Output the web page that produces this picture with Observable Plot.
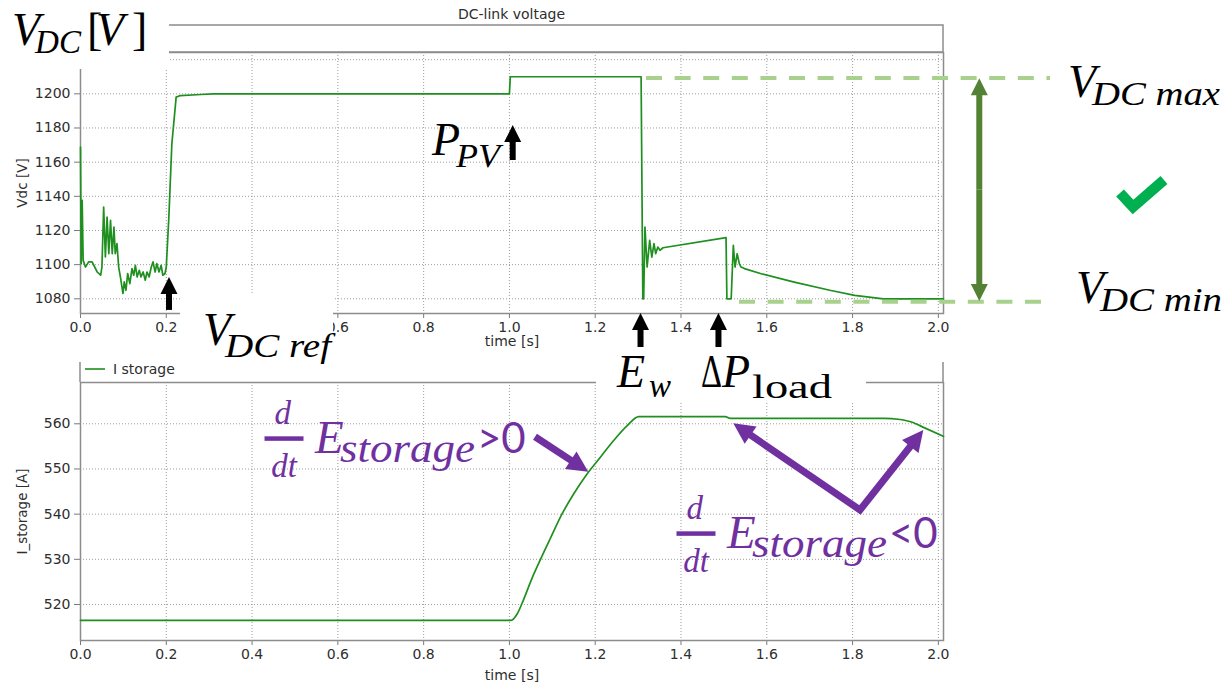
<!DOCTYPE html>
<html>
<head>
<meta charset="utf-8">
<script src="https://cdn.jsdelivr.net/npm/d3@7"></script>
<script src="https://cdn.jsdelivr.net/npm/@observablehq/plot@0.6"></script>
<style>
  html, body { margin: 0; padding: 0; background: #ffffff; }
  #wrap { position: relative; width: 1228px; height: 686px; overflow: hidden; background: #fff; }
</style>
</head>
<body>
<div id="wrap"></div>
<script>
// ---------------- data ----------------
const timeTicks = [0, 0.2, 0.4, 0.6, 0.8, 1.0, 1.2, 1.4, 1.6, 1.8, 2.0];
const vdcTicks = [1080, 1100, 1120, 1140, 1160, 1180, 1200, 1220];
const iTicks = [520, 530, 540, 550, 560];
const topHiddenTimeLabels = [0.4]; // hidden behind the V_DC ref label in the reference

// DC-link voltage [V] vs time [s]
const vdcTime = [0, 0.0016, 0.0039, 0.0062, 0.0116, 0.019, 0.027, 0.039, 0.047, 0.050, 0.054, 0.058, 0.062, 0.066, 0.070, 0.074, 0.078, 0.081, 0.085, 0.089, 0.093, 0.099, 0.102, 0.106, 0.110, 0.115, 0.120, 0.124, 0.128, 0.132, 0.137, 0.141, 0.146, 0.151, 0.155, 0.160, 0.165, 0.169, 0.174, 0.178, 0.183, 0.188, 0.192, 0.197, 0.200, 0.206, 0.213, 0.223, 0.233, 0.280, 0.310, 1.000, 1.002, 1.307, 1.311, 1.313, 1.316, 1.321, 1.327, 1.332, 1.337, 1.341, 1.346, 1.351, 1.358, 1.505, 1.507, 1.517, 1.522, 1.526, 1.531, 1.536, 1.540, 1.548, 1.587, 1.664, 1.747, 1.805, 1.872, 2.012];
const vdcValue = [1168.8, 1100.6, 1137.6, 1102.5, 1098.6, 1101.6, 1101.6, 1095.7, 1093.8, 1098.6, 1133.7, 1104.5, 1127.9, 1106.4, 1125.9, 1106.4, 1122.0, 1106.4, 1112.3, 1098.6, 1092.8, 1083.1, 1089.9, 1085.0, 1094.8, 1088.9, 1097.7, 1093.8, 1099.6, 1092.8, 1096.7, 1092.8, 1095.7, 1090.9, 1095.7, 1092.8, 1098.6, 1101.6, 1095.7, 1100.6, 1095.7, 1099.6, 1093.8, 1094.8, 1098.6, 1127.9, 1170.8, 1198.1, 1199.0, 1199.6, 1200, 1200, 1210, 1210, 1080, 1080, 1122.0, 1098.6, 1114.2, 1104.4, 1112.3, 1106.4, 1110.3, 1108.4, 1109.9, 1115.8, 1080, 1080, 1111.3, 1098.6, 1106.4, 1100.6, 1098.6, 1097.7, 1094.7, 1089.8, 1085.0, 1082.0, 1080.0, 1080.0];

// Storage current [A] vs time [s]
const iTime = [0, 1.004, 1.018, 1.0335, 1.053, 1.0724, 1.0957, 1.123, 1.150, 1.181, 1.212, 1.243, 1.2746, 1.3016, 1.503, 1.515, 1.875, 1.906, 1.937, 1.968, 2.012];
const iValue = [516.5, 516.5, 517.9, 521.2, 525.9, 530.0, 534.7, 540.1, 544.5, 548.9, 552.6, 556.3, 559.6, 561.6, 561.6, 561.2, 561.2, 561.0, 560.4, 559.1, 557.2];

// annotation anchors, in chart data units
const eventArrowT = [0.2075, 1.0088, 1.3068, 1.4885];
const eventArrowFrom = [1073.2, 1160.97, 1051.5, 1051.5];
const eventArrowTo = [1092.5, 1181.46, 1071.4, 1071.4];
const limitLevels = [1208.98, 1078.02];
const limitStartT = [1.3196, 1.5364];
const limitEndT = 2.2615;
const rangeArrowT = 2.0966;
const rangeArrowV = [1078.43, 1208.80];
const checkT = [2.4247, 2.4550, 2.5272];
const checkV = [1141.65, 1133.46, 1149.26];
const chargeArrowT = [1.0608, 1.1851];
const chargeArrowV = [557.03, 549.28];
const dischargeT = [1.5231, 1.8185, 1.9661];
const dischargeV = [560.00, 540.81, 558.52];

// ---------------- layout ----------------
const W = 1228, H = 686;
const xDomain = [0, 2.012];
const botOffset = 350;
const topHeaderTop = 25;
const botHeaderTop = 362;
const FRAME = "#8c8c8c";
const LINE = "#1f8f1f";
const SERIF = "'Liberation Serif', 'Times New Roman', serif";
const SANSUI = "'DejaVu Sans', sans-serif";
const SANSMATH = "Lato, 'Open Sans', sans-serif";
const PURPLE = "#7030a0";

const vdc = vdcTime.map((t, i) => ({t, v: vdcValue[i]}));
const cur = iTime.map((t, i) => ({t, v: iValue[i]}));

const grid = {stroke: "#9c9c9c", strokeOpacity: 1, strokeWidth: 1, strokeDasharray: "1,2"};

function makeChart({height, marginTop, marginBottom, domain, yTicks, yLabel, data, xLabelDy, hidden = [], curve = "linear"}) {
  const fmt = d3.format(".1f");
  return Plot.plot({
    width: W, height,
    marginLeft: 80, marginRight: 285, marginTop, marginBottom,
    x: {domain: xDomain},
    y: {domain},
    style: {fontFamily: SANSUI, fontSize: "14px", color: "#2e2e2e", background: "transparent", overflow: "visible"},
    marks: [
      Plot.gridX(timeTicks, grid),
      Plot.gridY(yTicks, grid),
      Plot.axisX(timeTicks, {tickFormat: d => hidden.includes(d) ? "" : fmt(d), label: null, tickSize: 5, tickPadding: 4, stroke: "#7a7a7a", fontSize: 14}),
      Plot.axisY(yTicks, {tickFormat: d3.format("d"), label: null, tickSize: 6, tickPadding: 4, stroke: "#7a7a7a", fontSize: 14}),
      Plot.frame({stroke: FRAME, strokeWidth: 1.5}),
      Plot.text(["time [s]"], {text: d => d, frameAnchor: "bottom", dy: xLabelDy, lineAnchor: "middle", fontSize: 14}),
      Plot.text([yLabel], {text: d => d, frameAnchor: "left", dx: -63, rotate: -90, lineAnchor: "top", textAnchor: "middle", fontSize: 13.5}),
      Plot.line(data, {x: "t", y: "v", stroke: LINE, strokeWidth: 1.7, curve})
    ]
  });
}

const wrap = document.getElementById("wrap");
const topPlot = makeChart({height: 350, marginTop: 52, marginBottom: 37, domain: [1071.4, 1224.2], yTicks: vdcTicks, yLabel: "Vdc [V]", data: vdc, xLabelDy: 28, hidden: topHiddenTimeLabels});
topPlot.style.position = "absolute"; topPlot.style.left = "0px"; topPlot.style.top = "0px";
wrap.append(topPlot);
const botPlot = makeChart({height: 336, marginTop: 32, marginBottom: 46, domain: [512.03, 569.14], yTicks: iTicks, yLabel: "I_storage [A]", data: cur, xLabelDy: 35, curve: "monotone-x"});
botPlot.style.position = "absolute"; botPlot.style.left = "0px"; botPlot.style.top = botOffset + "px";
wrap.append(botPlot);

// ---------------- overlay (positions via the plots' scales) ----------------
const sx = t => topPlot.scale("x").apply(t);
const tyTop = v => topPlot.scale("y").apply(v);
const tyBot = v => botOffset + botPlot.scale("y").apply(v);
const P = {top: (t, v) => [sx(t), tyTop(v)], bot: (t, v) => [sx(t), tyBot(v)]};
const [xL, xR] = topPlot.scale("x").range;
const topFrameTop = topPlot.scale("y").range[1];
const botFrameTop = botOffset + botPlot.scale("y").range[1];

const ov = d3.select(wrap).append("svg")
  .attr("width", W).attr("height", H)
  .style("position", "absolute").style("left", "0px").style("top", "0px");

// header boxes
ov.append("rect").attr("x", xL).attr("y", topHeaderTop).attr("width", xR - xL).attr("height", topFrameTop - topHeaderTop)
  .attr("fill", "none").attr("stroke", FRAME).attr("stroke-width", 1.5);
for (const x of [xL, xR]) {
  ov.append("line").attr("x1", x).attr("x2", x).attr("y1", botHeaderTop).attr("y2", botFrameTop)
    .attr("stroke", FRAME).attr("stroke-width", 1.5);
}
// white label boxes
const masks = [[0, 0, 169, 69], [180, 295, 153, 81], [596, 333, 270, 68]];
for (const [x, y, w, h] of masks) ov.append("rect").attr("x", x).attr("y", y).attr("width", w).attr("height", h).attr("fill", "#fff");

// title + legend
ov.append("text").attr("x", (xL + xR) / 2).attr("y", 19).attr("text-anchor", "middle")
  .attr("font-family", SANSUI).attr("font-size", 14).attr("fill", "#2e2e2e").text("DC-link voltage");
ov.append("line").attr("x1", xL + 5).attr("x2", xL + 25).attr("y1", botHeaderTop + 7).attr("y2", botHeaderTop + 7)
  .attr("stroke", LINE).attr("stroke-width", 1.6);
ov.append("text").attr("x", xL + 33).attr("y", botHeaderTop + 12).attr("font-family", SANSUI).attr("font-size", 14)
  .attr("fill", "#2e2e2e").text("I storage");

// helpers
function headPath(p1, p2, len, wid) {
  const dx = p2[0] - p1[0], dy = p2[1] - p1[1], L = Math.hypot(dx, dy), ux = dx / L, uy = dy / L;
  const bx = p2[0] - ux * len, by = p2[1] - uy * len, h = wid / 2;
  return `M${p2[0]},${p2[1]}L${bx - uy * h},${by + ux * h}L${bx + uy * h},${by - ux * h}Z`;
}
function back(p1, p2, len) {
  const dx = p2[0] - p1[0], dy = p2[1] - p1[1], L = Math.hypot(dx, dy);
  return [p2[0] - dx / L * len, p2[1] - dy / L * len];
}
function arrow(p1, p2, color, width, len, wid) {
  const e = back(p1, p2, len * 0.7);
  ov.append("line").attr("x1", p1[0]).attr("y1", p1[1]).attr("x2", e[0]).attr("y2", e[1])
    .attr("stroke", color).attr("stroke-width", width);
  ov.append("path").attr("d", headPath(p1, p2, len, wid)).attr("fill", color);
}

// V_DC max / min guides
limitLevels.forEach((v, i) => {
  const a = P.top(limitStartT[i], v), b = P.top(limitEndT, v);
  ov.append("line").attr("x1", a[0]).attr("y1", a[1]).attr("x2", b[0]).attr("y2", b[1])
    .attr("stroke", "#a9d18e").attr("stroke-width", 4).attr("stroke-dasharray", "16,12.6");
});
// range double arrow
{
  const lo = P.top(rangeArrowT, rangeArrowV[0]), hi = P.top(rangeArrowT, rangeArrowV[1]);
  const mid = [(lo[0] + hi[0]) / 2, (lo[1] + hi[1]) / 2];
  arrow(mid, hi, "#548235", 6, 17, 17);
  arrow(mid, lo, "#548235", 6, 17, 17);
}
// check mark
ov.append("path").attr("d", d3.line()(checkT.map((t, i) => P.top(t, checkV[i]))))
  .attr("fill", "none").attr("stroke", "#00b050").attr("stroke-width", 10.5)
  .attr("stroke-linejoin", "miter").attr("stroke-linecap", "butt");

// event arrows (black)
eventArrowT.forEach((t, i) => arrow(P.top(t, eventArrowFrom[i]), P.top(t, eventArrowTo[i]), "#000", 6, 17, 17));

// purple arrows
arrow(P.bot(chargeArrowT[0], chargeArrowV[0]), P.bot(chargeArrowT[1], chargeArrowV[1]), PURPLE, 7, 21, 21);
{
  const t1 = P.bot(dischargeT[0], dischargeV[0]), vx = P.bot(dischargeT[1], dischargeV[1]), t2 = P.bot(dischargeT[2], dischargeV[2]);
  const e1 = back(vx, t1, 14), e2 = back(vx, t2, 14);
  ov.append("path").attr("d", `M${e1[0]},${e1[1]}L${vx[0]},${vx[1]}L${e2[0]},${e2[1]}`)
    .attr("fill", "none").attr("stroke", PURPLE).attr("stroke-width", 7).attr("stroke-linejoin", "miter");
  ov.append("path").attr("d", headPath(vx, t1, 21, 21)).attr("fill", PURPLE);
  ov.append("path").attr("d", headPath(vx, t2, 21, 21)).attr("fill", PURPLE);
}

// text labels: one <text> per formula, pieces as positioned <tspan>s
function drawLabel(x, y, parts, color) {
  const t = ov.append("text").attr("fill", color).attr("font-family", SERIF);
  for (const p of parts) {
    const ts = t.append("tspan").attr("x", x + (p.dx || 0)).attr("y", y + (p.dy || 0))
      .attr("font-size", p.size)
      .attr("font-style", p.italic === false ? "normal" : "italic")
      .attr("text-anchor", p.anchor || "start").text(p.s);
    if (p.family) ts.attr("font-family", p.family);
    if (p.len) ts.attr("textLength", p.len).attr("lengthAdjust", "spacingAndGlyphs");
  }
}
const M = 46, S = 33;
const blackLabels = [
  {at: P.top(-0.1585, 1228.3), parts: [
    {s: "V", size: M}, {s: "DC", size: S, dx: 23, dy: 8, len: 46},
    {s: "[", size: M, dx: 75, italic: false}, {s: "V", size: M, dx: 84}, {s: "]", size: M, dx: 120, italic: false}]},
  {at: P.top(0.2868, 1052.67), parts: [{s: "V", size: M}, {s: "DC ref", size: S, dx: 22, dy: 12, len: 106}]},
  {at: P.top(0.8207, 1163.9), parts: [{s: "P", size: M}, {s: "PV", size: S, dx: 24, dy: 12, len: 44}]},
  {at: P.top(2.3034, 1197.86), parts: [{s: "V", size: M}, {s: "DC max", size: S, dx: 24, dy: 8, len: 128}]},
  {at: P.top(2.3221, 1077.26), parts: [{s: "V", size: M}, {s: "DC min", size: S, dx: 24, dy: 8.5, len: 122}]},
  {at: P.top(1.2520, 1028.08), parts: [{s: "E", size: M}, {s: "w", size: S, dx: 32, dy: 10, len: 22}]},
  {at: P.top(1.4478, 1028.08), parts: [{s: "Δ", size: M, italic: false, len: 21}, {s: "P", size: M, dx: 21}, {s: "load", size: S, dx: 51, dy: 11, len: 80, italic: false}]}
];
for (const l of blackLabels) drawLabel(l.at[0], l.at[1], l.parts, "#000");

const rateLabels = [
  {at: P.bot(0.5479, 553.42), rel: ">0"},
  {at: P.bot(1.5084, 532.39), rel: "<0"}
];
for (const r of rateLabels) {
  const [x, y] = r.at;
  ov.append("rect").attr("x", x - 50.5).attr("y", y - 16.7).attr("width", 39).attr("height", 4.5).attr("fill", PURPLE);
  drawLabel(x, y, [
    {s: "d", size: S, dx: -32.3, dy: -29, anchor: "middle"},
    {s: "dt", size: S, dx: -31, dy: 23.5, anchor: "middle"},
    {s: "E", size: 47},
    {s: "storage", size: 40, dx: 25, dy: 9, len: 135},
    {s: r.rel, size: 42, dx: 162, family: SANSMATH, italic: false}
  ], PURPLE);
}
</script>
</body>
</html>
